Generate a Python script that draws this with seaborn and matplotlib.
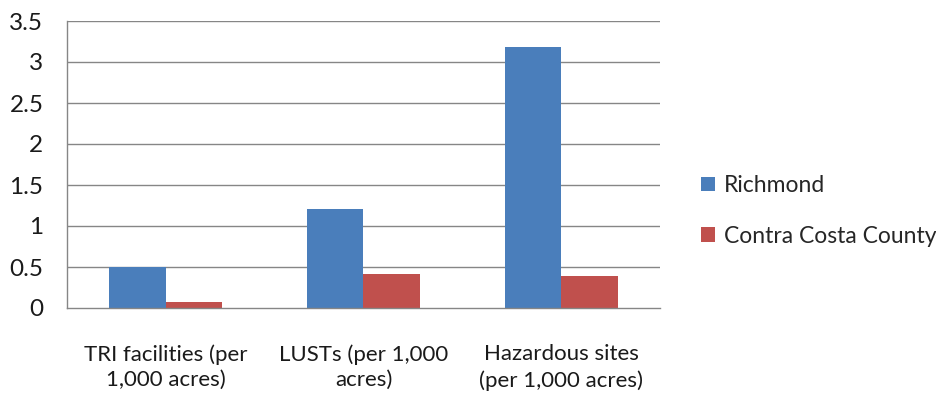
import matplotlib
matplotlib.use("Agg")
import matplotlib.pyplot as plt
import seaborn as sns
import pandas as pd
from matplotlib.patches import Patch

categories = ["TRI facilities (per\n1,000 acres)", "LUSTs (per 1,000\nacres)", "Hazardous sites\n(per 1,000 acres)"]
series_names = ["Richmond", "Contra Costa County"]
richmond = [0.50, 1.21, 3.18]
contra_costa = [0.07, 0.41, 0.39]
y_ticks = [0, 0.5, 1, 1.5, 2, 2.5, 3, 3.5]
y_tick_labels = ["0", "0.5", "1", "1.5", "2", "2.5", "3", "3.5"]

colors = ["#4A7EBB", "#C0504D"]

df = pd.DataFrame({
    "category": categories * 2,
    "series": [series_names[0]] * 3 + [series_names[1]] * 3,
    "value": richmond + contra_costa,
})

sns.set_style("white")
plt.rcParams["font.family"] = ["Lato", "DejaVu Sans"]
text_color = "#1a1a1a"

fig = plt.figure(figsize=(9.37, 3.97), dpi=100)
ax = fig.add_axes([67 / 937, 1 - 308 / 397, (660 - 67) / 937, (308 - 21) / 397])

sns.barplot(data=df, x="category", y="value", hue="series", order=categories,
            hue_order=series_names, palette=colors, width=0.57, gap=0,
            saturation=1, linewidth=0, ax=ax, legend=False)

grid_color = "#868686"
ax.set_ylim(0, 3.5)
ax.set_xlim(-0.5, 2.5)
ax.set_yticks(y_ticks)
ax.set_yticklabels(y_tick_labels, fontsize=17.5, color=text_color)
for y in y_ticks[1:]:
    ax.axhline(y, color=grid_color, linewidth=1, zorder=0)

ax.set_xticks(range(len(categories)))
ax.set_xticklabels(categories, fontsize=16, color=text_color, linespacing=1.35)
ax.set_xticks([-0.5, 0.5, 1.5, 2.5], minor=True)
ax.tick_params(axis="x", which="major", length=0, pad=26)
ax.tick_params(axis="x", which="minor", length=6, color=grid_color, width=1, direction="out")
ax.tick_params(axis="y", length=6, color=grid_color, width=1, direction="out", pad=11)
ax.set_xlabel("")
ax.set_ylabel("")

for side in ["top", "right"]:
    ax.spines[side].set_visible(False)
for side in ["left", "bottom"]:
    ax.spines[side].set_color(grid_color)
    ax.spines[side].set_linewidth(1)

handles = [Patch(facecolor=c, edgecolor="none") for c in colors]
fig.legend(handles, series_names, loc="upper left", bbox_to_anchor=(701 / 937, 1 - 175 / 397),
           frameon=False, fontsize=16.5, handlelength=0.6, handleheight=0.6,
           handletextpad=0.4, labelspacing=1.3, borderaxespad=0, borderpad=0)

fig.savefig("out.png", dpi=100)
